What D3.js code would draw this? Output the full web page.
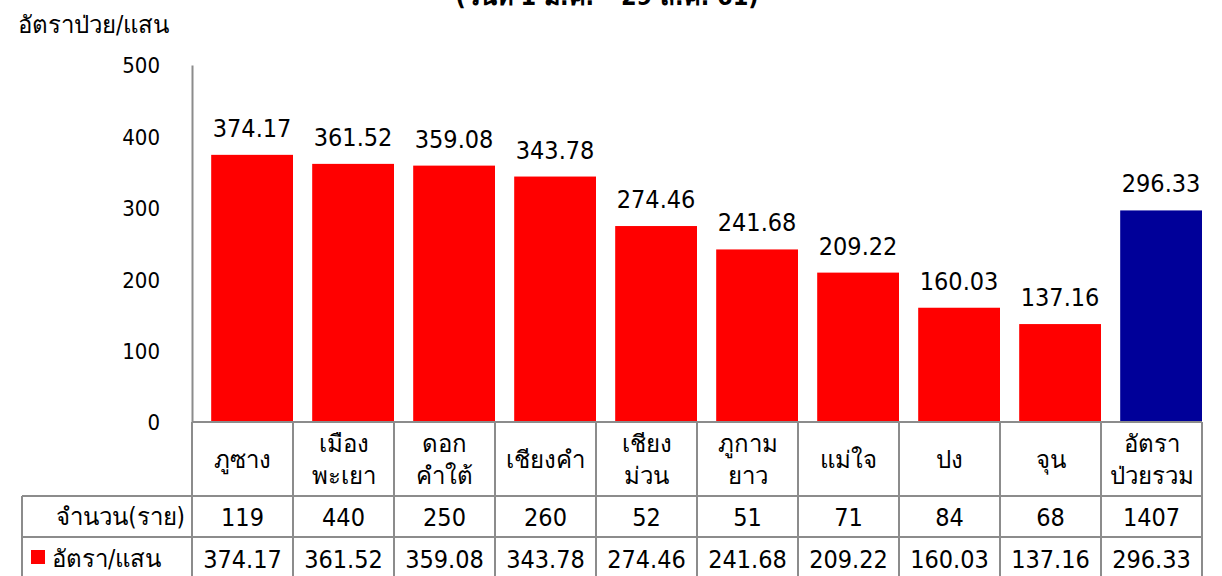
<!DOCTYPE html>
<html>
<head>
<meta charset="utf-8">
<style>
body { margin: 0; background: #fff; }
text { font-family: "DejaVu Sans Condensed", "DejaVu Sans", sans-serif; fill: #000; }
</style>
</head>
<body>
<script src="https://cdn.jsdelivr.net/npm/d3@7"></script>
<script>
// data
var categories = ["ภูซาง", "เมือง\nพะเยา", "ดอก\nคำใต้", "เชียงคำ", "เชียง\nม่วน", "ภูกาม\nยาว", "แม่ใจ", "ปง", "จุน", "อัตรา\nป่วยรวม"];
var rates = [374.17, 361.52, 359.08, 343.78, 274.46, 241.68, 209.22, 160.03, 137.16, 296.33];
var cases = [119, 440, 250, 260, 52, 51, 71, 84, 68, 1407];
var yTicks = [0, 100, 200, 300, 400, 500];
var rowLabels = ["จำนวน(ราย)", "อัตรา/แสน"];

var width = 1222, height = 576;
var gridColor = "#8c8c8c";

var svg = d3.select("body").append("svg")
    .attr("width", width)
    .attr("height", height);

var col = d3.scaleBand()
    .domain(d3.range(categories.length))
    .range([192, 1202])
    .padding(0);

var y = d3.scaleLinear()
    .domain([0, 500])
    .range([422, 65]);

// title (cut off at top)
svg.append("text")
    .attr("x", 607)
    .attr("y", 5)
    .attr("text-anchor", "middle")
    .style("font-size", "25px")
    .style("font-weight", "bold")
    .text("(วันที่ 1 ม.ค. – 29 ส.ค. 61)");

// y title
svg.append("text")
    .attr("x", 18)
    .attr("y", 33)
    .style("font-size", "24px")
    .text("อัตราป่วย/แสน");

// y axis
var yAxis = d3.axisLeft(y).tickValues(yTicks).tickSize(0).tickPadding(32);
var gy = svg.append("g")
    .attr("transform", "translate(192,0)")
    .call(yAxis);
gy.attr("font-family", null).attr("font-size", null);
gy.select(".domain").attr("stroke", gridColor).attr("stroke-width", 2);
gy.selectAll("text")
    .style("font-size", "22px")
    .attr("dy", "0.36em");

// bars
var bw = col.bandwidth();
svg.append("g").selectAll("rect")
    .data(rates)
    .enter().append("rect")
    .attr("x", function(d, i) { return col(i) + bw * 0.19; })
    .attr("width", bw * 0.81)
    .attr("y", function(d) { return y(d); })
    .attr("height", function(d) { return y(0) - y(d); })
    .attr("fill", function(d, i) { return i === categories.length - 1 ? "#000099" : "#ff0000"; });

// value labels
svg.append("g").selectAll("text")
    .data(rates)
    .enter().append("text")
    .attr("x", function(d, i) { return col(i) + bw * 0.19 + bw * 0.405; })
    .attr("y", function(d) { return y(d) - 18; })
    .attr("text-anchor", "middle")
    .style("font-size", "25px")
    .text(function(d) { return d.toFixed(2); });

// data table
var tTop = 422, row1 = 496, row2 = 537, tBottom = 590;
var grid = svg.append("g")
    .attr("stroke", gridColor)
    .attr("stroke-width", 2);

grid.append("line").attr("x1", 192).attr("x2", 1202).attr("y1", tTop).attr("y2", tTop);
grid.append("line").attr("x1", 22).attr("x2", 1202).attr("y1", row1).attr("y2", row1);
grid.append("line").attr("x1", 22).attr("x2", 1202).attr("y1", row2).attr("y2", row2);
grid.append("line").attr("x1", 22).attr("x2", 22).attr("y1", row1).attr("y2", tBottom);
grid.selectAll(".vl")
    .data(d3.range(categories.length + 1))
    .enter().append("line")
    .attr("class", "vl")
    .attr("x1", function(i) { return i < categories.length ? col(i) : col(categories.length - 1) + bw; })
    .attr("x2", function(i) { return i < categories.length ? col(i) : col(categories.length - 1) + bw; })
    .attr("y1", tTop)
    .attr("y2", tBottom);

// category labels
var cat = svg.append("g").selectAll("text")
    .data(categories)
    .enter().append("text")
    .attr("text-anchor", "middle")
    .attr("x", function(d, i) { return col(i) + bw / 2; })
    .attr("y", function(d) { return d.indexOf("\n") >= 0 ? 452 : 468; })
    .style("font-size", "24px");
cat.each(function(d) {
  var lines = d.split("\n");
  var t = d3.select(this);
  lines.forEach(function(l, k) {
    t.append("tspan")
      .attr("x", t.attr("x"))
      .attr("dy", k === 0 ? 0 : 32)
      .text(l);
  });
});

// row 1: cases
svg.append("text")
    .attr("x", 185)
    .attr("y", row1 + 29)
    .attr("text-anchor", "end")
    .style("font-size", "24px")
    .text(rowLabels[0]);
svg.append("g").selectAll("text")
    .data(cases)
    .enter().append("text")
    .attr("x", function(d, i) { return col(i) + bw / 2; })
    .attr("y", row1 + 30)
    .attr("text-anchor", "middle")
    .style("font-size", "25px")
    .text(function(d) { return d; });

// row 2: rates with legend key
svg.append("rect")
    .attr("x", 31).attr("y", 550)
    .attr("width", 14).attr("height", 14)
    .attr("fill", "#ff0000");
svg.append("text")
    .attr("x", 52)
    .attr("y", row2 + 30)
    .style("font-size", "24px")
    .text(rowLabels[1]);
svg.append("g").selectAll("text")
    .data(rates)
    .enter().append("text")
    .attr("x", function(d, i) { return col(i) + bw / 2; })
    .attr("y", row2 + 31)
    .attr("text-anchor", "middle")
    .style("font-size", "25px")
    .text(function(d) { return d.toFixed(2); });
</script>
</body>
</html>
